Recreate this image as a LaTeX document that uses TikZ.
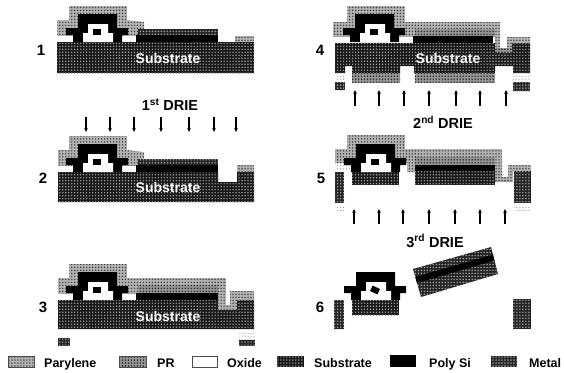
\documentclass[tikz,border=0pt]{standalone}
\usepackage{fontspec}
\setmainfont{Liberation Sans}
\usetikzlibrary{patterns.meta,calc,arrows.meta}
\tikzset{
  pary/.style={preaction={fill=black!30},pattern={Dots[distance=2.988pt,radius=.8pt]},pattern color=black!75},
  faint/.style={pattern={Dots[distance=2.988pt,radius=.6pt]},pattern color=black!45},
  prl/.style={preaction={fill=black!42},pattern={Dots[distance=2.988pt,radius=.8pt]},pattern color=black!85},
  metl/.style={preaction={fill=black!85},pattern={Dots[distance=2.988pt,radius=.8pt]},pattern color=black!35},
  subs/.style={preaction={fill=black!90},pattern={Dots[distance=2.988pt,radius=.8pt]},pattern color=black!40},
  poly/.style={fill=black},
  oxi/.style={fill=white},
  swatch/.style={draw=black!70,line width=.5pt},
  lbl/.style={font=\fontsize{12.5}{14}\selectfont\bfseries,anchor=base west,inner sep=0pt},
  num/.style={font=\fontsize{15}{16}\selectfont\bfseries,inner sep=0pt},
  drie/.style={font=\fontsize{14.5}{15}\selectfont\bfseries,inner sep=0pt},
  subtxt/.style={font=\fontsize{14}{15}\selectfont\bfseries,text=white,inner sep=0pt},
  flow/.style={line width=1.1pt,-{Stealth[length=4pt,width=3.6pt]}}
}
\newcommand{\xstr}[3]{%
  \begin{scope}[shift={(#1,#2)}]
    \fill[poly] (78,14)--(117,14)--(117,28)--(128,28)--(128,35)--(122,35)--(122,42)--(73,42)--(73,35)--(66,35)--(66,28)--(78,28)--cycle;
    \fill[oxi] (88,24)--(108,24)--(108,33)--(113,33)--(113,42)--(83,42)--(83,33)--(88,33)--cycle;
    \fill[poly,rotate around={#3:(97,32)}] (93,29) rectangle (101,35);
  \end{scope}}
\newcommand{\pads}[2]{%
  \begin{scope}[shift={(#1,#2)}]
    \fill[oxi] (57,36) rectangle (73,42);
    \fill[oxi] (122,36) rectangle (135,42);
  \end{scope}}
\begin{document}
\begin{tikzpicture}[x=1pt,y=-1pt]
\useasboundingbox (0,0) rectangle (564,372);
%--- panel 1
\fill[subs] (57,42) rectangle (254,73);
\fill[pary] (57,20)--(69,20)--(69,6)--(127,6)--(127,20)--(144,22)--(144,36)--(57,36)--cycle;
\fill[metl] (138,29) rectangle (218,36);
\fill[poly] (136,35) rectangle (218,42);
\fill[pary] (235,36) rectangle (254,42);
\pads{0}{0}\xstr{0}{0}{0}
\node[subtxt] (s1) at (168,58) {Substrate};
\node[num] (n1) at (41,50) {1};
%--- panel 2
\fill[subs] (58,172)--(218,172)--(218,182)--(237,182)--(237,172)--(254,172)--(254,202)--(58,202)--cycle;
\fill[pary] (58,150)--(69,150)--(69,136)--(127,136)--(127,150)--(144,152)--(144,166)--(58,166)--cycle;
\fill[metl] (138,159) rectangle (218,166);
\fill[poly] (136,165) rectangle (218,172);
\fill[pary] (237,165) rectangle (254,172);
\pads{0}{130}\xstr{0}{130}{0}
\node[subtxt] (s2) at (168,187) {Substrate};
\node[num] (n2) at (43,178) {2};
\foreach \ax in {86,110,134,161,189,214,236}
  \draw[flow] (\ax,117) -- (\ax,132);
\node[drie] (d1) at (170,105) {1\textsuperscript{st} DRIE};
%--- panel 3
\fill[subs] (58,300)--(218,300)--(218,310)--(237,310)--(237,300)--(254,300)--(254,329)--(58,329)--cycle;
\fill[pary] (58,278)--(69,278)--(69,264)--(127,264)--(127,278)--(226,278)--(226,305)--(230,305)--(230,291)--(254,291)--(254,300)--(237,300)--(237,310)--(218,310)--(218,294)--(58,294)--cycle;
\fill[prl] (138,285) rectangle (218,293);
\fill[poly] (136,293) rectangle (218,300);
\pads{0}{258}\xstr{0}{258}{0}
\node[subtxt] (s3) at (168,316) {Substrate};
\node[num] (n3) at (43,307) {3};
\fill[faint] (239,331) rectangle (255,339);
\fill[metl] (58,338) rectangle (70,346);
\fill[metl] (239,340) rectangle (255,346);
%--- panel 4
\fill[subs] (335,43)--(495,43)--(495,53)--(512,53)--(512,43)--(530,43)--(530,73)--(513,73)--(513,66)--(495,66)--(495,73)--(414,73)--(414,66)--(400,66)--(400,73)--(352,73)--(352,66)--(345,66)--(345,73)--(335,73)--cycle;
\fill[pary] (333,22)--(347,22)--(347,6)--(405,6)--(405,22)--(500,22)--(500,48)--(507,48)--(507,37)--(530,37)--(530,43)--(512,43)--(512,53)--(495,53)--(495,37)--(333,37)--cycle;
\fill[prl] (415,29) rectangle (495,36);
\fill[poly] (413,36) rectangle (493,43);
\fill[prl] (495,48) rectangle (512,53);
\pads{277}{1}\xstr{277}{0}{0}
\fill[prl] (352,73) rectangle (400,83);
\fill[prl] (415,73) rectangle (495,83);
\fill[faint] (335,75) rectangle (345,80);
\fill[faint] (513,75) rectangle (530,80);
\fill[metl] (335,82) rectangle (345,90);
\fill[metl] (513,82) rectangle (530,91);
\node[subtxt] (s4) at (448,58) {Substrate};
\node[num] (n4) at (320,50) {4};
\foreach \ax in {355,379,404,429,456,480,506}
  \draw[flow] (\ax,106) -- (\ax,90);
\node[drie] (d2) at (443,122) {2\textsuperscript{nd} DRIE};
%--- panel 5
\fill[pary] (335,149)--(347,149)--(347,135)--(405,135)--(405,149)--(502,149)--(502,177)--(508,177)--(508,165)--(531,165)--(531,171)--(513,171)--(513,182)--(495,182)--(495,157)--(415,157)--(415,172)--(407,172)--(407,163)--(335,163)--cycle;
\fill[faint] (335,163) rectangle (350,170);
\fill[prl] (415,157) rectangle (495,165);
\fill[poly] (415,165) rectangle (495,171);
\fill[subs] (415,171) rectangle (495,185);
\fill[subs] (352,172) rectangle (399,185);
\xstr{278}{130}{0}
\fill[metl] (335,172) rectangle (344,203);
\fill[metl] (514,171) rectangle (531,203);
\fill[faint] (335,207) rectangle (345,210);
\fill[faint] (514,205) rectangle (531,212);
\node[num] (n5) at (321,178) {5};
\foreach \ax in {354,379,403,429,455,480,505}
  \draw[flow] (\ax,224) -- (\ax,209);
\node[drie] (d3) at (435,241) {3\textsuperscript{rd} DRIE};
%--- panel 6
\fill[subs] (352,300) rectangle (399,315);
\xstr{278}{258}{-25}
\fill[metl] (334,300) rectangle (344,329);
\fill[metl] (513,299) rectangle (531,329);
\coordinate (tl) at (413,269);
\coordinate (tr) at (491,247);
\coordinate (br) at (498,274);
\coordinate (bl) at (421,297);
\fill[metl] (tl)--(tr)--(br)--(bl)--cycle;
\fill[poly] ($(tl)!.28!(bl)$)--($(tr)!.28!(br)$)--($(tr)!.5!(br)$)--($(tl)!.5!(bl)$)--cycle;
\node[num] (n6) at (320,307) {6};
%--- legend
\fill[pary] (8,356) rectangle (34,367); \draw[swatch] (8,356) rectangle (34,367);
\node[lbl] (l1) at (44,367.5) {Parylene};
\fill[prl] (119,356) rectangle (146,367); \draw[swatch] (119,356) rectangle (146,367);
\node[lbl] (l2) at (157,367.5) {PR};
\draw[swatch,fill=white] (192,356) rectangle (217,367);
\node[lbl] (l3) at (227,367.5) {Oxide};
\fill[subs] (277,356) rectangle (304,367);
\node[lbl] (l4) at (314,367.5) {Substrate};
\fill[poly] (390,355) rectangle (416,367);
\node[lbl] (l5) at (429,367.5) {Poly Si};
\fill[metl] (491,356) rectangle (517,367);
\node[lbl] (l6) at (529,367.5) {Metal};
\end{tikzpicture}
\end{document}
